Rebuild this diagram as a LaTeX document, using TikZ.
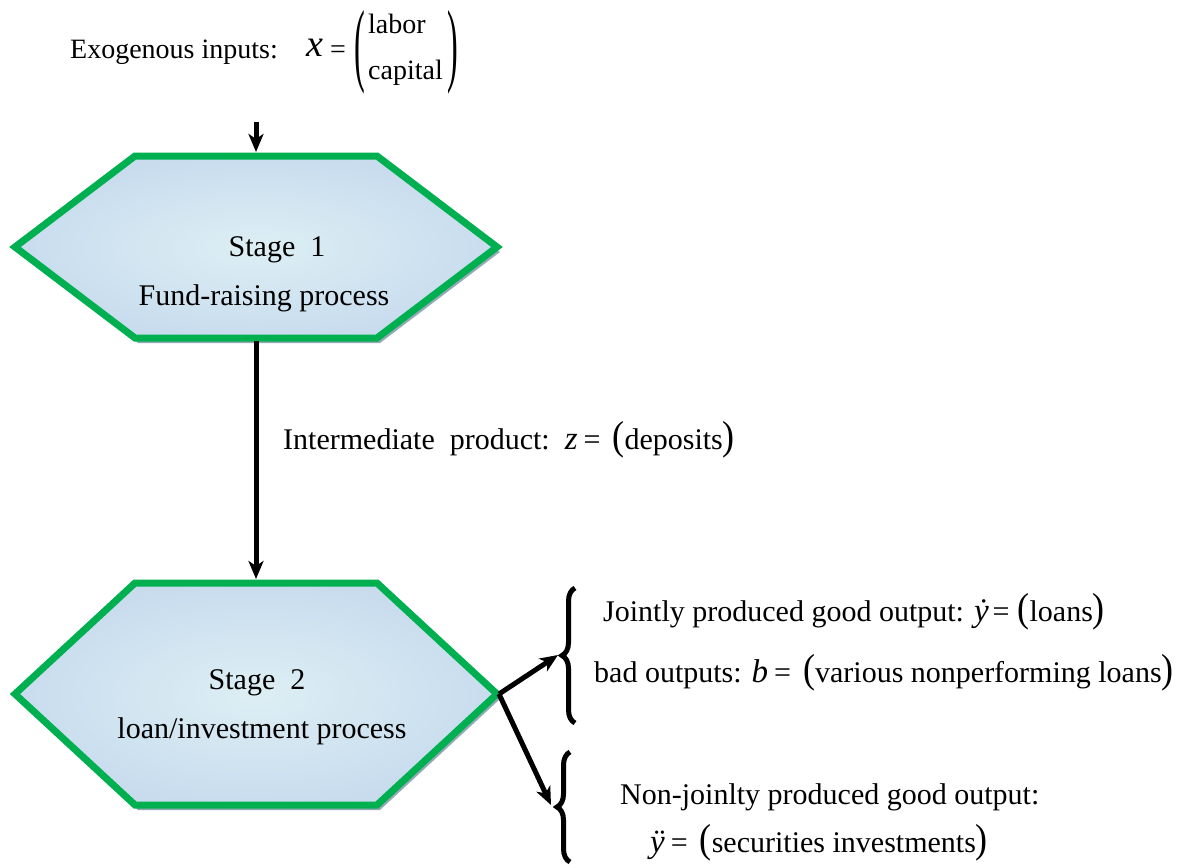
\documentclass[tikz,border=0pt]{standalone}
\usepackage{fontspec}
\setmainfont{Liberation Serif}
\usetikzlibrary{arrows.meta,decorations.pathreplacing}
\definecolor{hexgreen}{HTML}{00B050}
\definecolor{hexin}{HTML}{DDEFF4}
\definecolor{hexout}{HTML}{C8DCEE}
\definecolor{shadowgray}{HTML}{93AAB5}
\newcommand\bp[1]{\scalebox{1.2}[1.35]{#1}}
\newcommand\eqs{\hspace{6pt}=\hspace{12pt}}
\newcommand\eqn{\hspace{4pt}=\hspace{8pt}}
\newcommand\vv[1]{\textit{\fontsize{33}{34}\selectfont #1}}
\begin{document}
\begin{tikzpicture}[x=1pt,y=-1pt,
  hexfill/.style={inner color=hexin, outer color=hexout},
  hexline/.style={draw=hexgreen, line width=7pt, line join=miter},
  hexshadow/.style={fill=shadowgray},
  arr/.style={line width=5pt, -{Stealth[length=18pt,width=15pt,inset=5pt]}},
  lbl/.style={font=\fontsize{30}{34}\selectfont, inner sep=0pt, anchor=west},
  toplbl/.style={font=\fontsize{28}{34}\selectfont, inner sep=0pt},
  stagetxt/.style={font=\fontsize{30}{49}\selectfont, align=center, inner sep=0pt},
  brc/.style={decorate, decoration={brace, amplitude=13pt}, line width=5pt}]
\useasboundingbox (0,0) rectangle (1190,867);

% Stage 1 hexagon
\fill[hexshadow, shift={(3,5)}] (15,247) -- (135,156) -- (377,156) -- (497,247) -- (377,338) -- (135,338) -- cycle;
\path[hexfill] (15,247) -- (135,156) -- (377,156) -- (497,247) -- (377,338) -- (135,338) -- cycle;
\draw[hexline] (15,247) -- (135,156) -- (377,156) -- (497,247) -- (377,338) -- (135,338) -- cycle;
\coordinate (h1top) at (256,152);
\coordinate (h1bot) at (256,341);
\node[stagetxt] (stage1) at (264,274) {\hspace*{26pt}Stage\ \ 1\\Fund-raising process};

% Stage 2 hexagon
\fill[hexshadow, shift={(3,5)}] (15,694) -- (135,583) -- (377,583) -- (497,694) -- (377,805) -- (135,805) -- cycle;
\path[hexfill] (15,694) -- (135,583) -- (377,583) -- (497,694) -- (377,805) -- (135,805) -- cycle;
\draw[hexline] (15,694) -- (135,583) -- (377,583) -- (497,694) -- (377,805) -- (135,805) -- cycle;
\coordinate (h2top) at (256,579);
\coordinate (h2right) at (499,694);
\node[stagetxt] (stage2) at (262,707) {Stage\ \ 2\hspace*{10pt}\\loan/investment process};

% Exogenous inputs
\node[toplbl, anchor=west] (exo) at (70,52) {Exogenous inputs:};
\node[inner sep=0pt, font=\fontsize{38}{40}\selectfont\itshape] (xvar) at (315,48) {x};
\node[toplbl] (xeq) at (338,52) {=};
\node[toplbl] (lpar) at (360,52) {\scalebox{1.15}[3.3]{(}};
\node[toplbl, anchor=west, align=left, font=\fontsize{28}{46}\selectfont] (xvec) at (368,50) {labor\\capital};
\node[toplbl] (rpar) at (453,52) {\scalebox{1.15}[3.3]{)}};
\coordinate (intop) at (256,122);
\draw[arr] (intop) -- (h1top);

% Intermediate product
\draw[arr] (h1bot) -- (h2top);
\node[lbl] (inter) at (283,440) {Intermediate\ \ product:\ \ \vv{z}\eqs\bp{(}deposits\bp{)}};

% Braces
\coordinate (b1bot) at (575,723);
\coordinate (b1top) at (575,588);
\coordinate (b2bot) at (570,862);
\coordinate (b2top) at (570,752);
\draw[brc] (b1bot) -- (b1top);
\draw[brc] (b2bot) -- (b2top);
\coordinate (b1tip) at (558,655);
\coordinate (b2tip) at (551,805);
\draw[arr] (h2right) -- (b1tip);
\draw[arr] (h2right) -- (b2tip);

% Output labels
\node[lbl] (good) at (603,612) {Jointly produced good output: \vv{\.{y}}\eqn\bp{(}loans\bp{)}};
\node[lbl] (bad) at (594,673) {bad outputs: \vv{b}\eqs\bp{(}various nonperforming loans\bp{)}};
\node[lbl] (nonj) at (620,797) {Non-joinlty produced good output:};
\node[lbl] (secur) at (650,843) {\vv{\"{y}}\eqs\bp{(}securities investments\bp{)}};
\end{tikzpicture}
\end{document}
